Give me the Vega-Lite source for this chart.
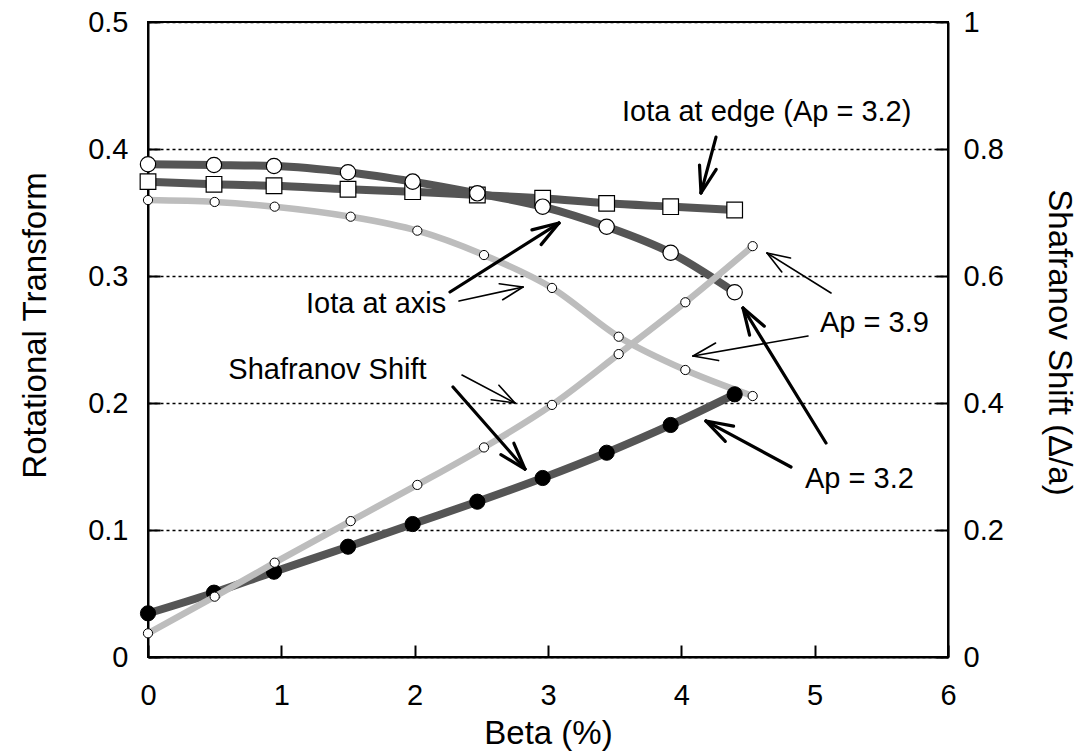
{
  "$schema": "https://vega.github.io/schema/vega-lite/v6.json",
  "width": 800,
  "height": 635,
  "autosize": {"type": "none"},
  "padding": {"left": 148, "top": 22, "right": 134, "bottom": 97},
  "background": "#ffffff",
  "config": {
    "font": "Liberation Sans",
    "view": {"stroke": "#000000", "strokeWidth": 2},
    "axis": {
      "domainColor": "#000000",
      "domainWidth": 2,
      "tickColor": "#000000",
      "tickWidth": 2,
      "tickSize": -12,
      "labelColor": "#000000",
      "labelFont": "Liberation Sans",
      "labelFontSize": 29,
      "labelFlush": false,
      "labelOverlap": false,
      "titleFont": "Liberation Sans",
      "titleFontSize": 33,
      "titleFontWeight": "normal",
      "titleColor": "#000000",
      "grid": false
    },
    "axisLeft": {
      "labelPadding": 32,
      "titleX": -113,
      "titleY": 303,
      "titleAngle": -90,
      "titleAlign": "center",
      "titleBaseline": "middle"
    },
    "axisRight": {
      "labelPadding": 27,
      "titleX": 110,
      "titleY": 320,
      "titleAngle": 90,
      "titleAlign": "center",
      "titleBaseline": "middle"
    },
    "axisBottom": {
      "labelPadding": 36,
      "labelBaseline": "top",
      "titleX": 400,
      "titleY": 86,
      "titleAlign": "center",
      "titleBaseline": "alphabetic"
    }
  },
  "datasets": {
    "iota": [
      {"series": "axis32", "beta": 0.0, "iota": 0.388},
      {"series": "axis32", "beta": 0.495, "iota": 0.3874},
      {"series": "axis32", "beta": 0.945, "iota": 0.3866},
      {"series": "axis32", "beta": 1.5, "iota": 0.3817},
      {"series": "axis32", "beta": 1.985, "iota": 0.3743},
      {"series": "axis32", "beta": 2.47, "iota": 0.3651},
      {"series": "axis32", "beta": 2.96, "iota": 0.3546},
      {"series": "axis32", "beta": 3.44, "iota": 0.3388},
      {"series": "axis32", "beta": 3.92, "iota": 0.3183},
      {"series": "axis32", "beta": 4.4, "iota": 0.2872},
      {"series": "edge32", "beta": 0.0, "iota": 0.3743},
      {"series": "edge32", "beta": 0.495, "iota": 0.3722},
      {"series": "edge32", "beta": 0.945, "iota": 0.3711},
      {"series": "edge32", "beta": 1.5, "iota": 0.3683},
      {"series": "edge32", "beta": 1.985, "iota": 0.3664},
      {"series": "edge32", "beta": 2.47, "iota": 0.3638},
      {"series": "edge32", "beta": 2.96, "iota": 0.3612},
      {"series": "edge32", "beta": 3.44, "iota": 0.3572},
      {"series": "edge32", "beta": 3.92, "iota": 0.3546},
      {"series": "edge32", "beta": 4.4, "iota": 0.352},
      {"series": "axis39", "beta": 0.0, "iota": 0.3598},
      {"series": "axis39", "beta": 0.5, "iota": 0.3583},
      {"series": "axis39", "beta": 0.95, "iota": 0.3546},
      {"series": "axis39", "beta": 1.52, "iota": 0.3467},
      {"series": "axis39", "beta": 2.02, "iota": 0.3357},
      {"series": "axis39", "beta": 2.52, "iota": 0.3165},
      {"series": "axis39", "beta": 3.03, "iota": 0.2906},
      {"series": "axis39", "beta": 3.53, "iota": 0.2522},
      {"series": "axis39", "beta": 4.03, "iota": 0.226},
      {"series": "axis39", "beta": 4.535, "iota": 0.2055}
    ],
    "shift": [
      {"series": "shift32", "beta": 0.0, "shift": 0.0688},
      {"series": "shift32", "beta": 0.495, "shift": 0.1013},
      {"series": "shift32", "beta": 0.945, "shift": 0.1343},
      {"series": "shift32", "beta": 1.5, "shift": 0.1737},
      {"series": "shift32", "beta": 1.985, "shift": 0.2094},
      {"series": "shift32", "beta": 2.47, "shift": 0.2446},
      {"series": "shift32", "beta": 2.96, "shift": 0.2819},
      {"series": "shift32", "beta": 3.44, "shift": 0.3217},
      {"series": "shift32", "beta": 3.92, "shift": 0.3654},
      {"series": "shift32", "beta": 4.4, "shift": 0.4137},
      {"series": "shift39", "beta": 0.0, "shift": 0.0373},
      {"series": "shift39", "beta": 0.5, "shift": 0.095},
      {"series": "shift39", "beta": 0.95, "shift": 0.1485},
      {"series": "shift39", "beta": 1.52, "shift": 0.214},
      {"series": "shift39", "beta": 2.02, "shift": 0.271},
      {"series": "shift39", "beta": 2.52, "shift": 0.33},
      {"series": "shift39", "beta": 3.03, "shift": 0.397},
      {"series": "shift39", "beta": 3.53, "shift": 0.477},
      {"series": "shift39", "beta": 4.03, "shift": 0.5586},
      {"series": "shift39", "beta": 4.535, "shift": 0.647}
    ],
    "arrows": [
      {"weight": "thick", "beta": 4.26, "iota": 0.4094, "beta2": 4.1475, "iota2": 0.3654},
      {"weight": "thick", "beta": 4.2615, "iota": 0.3839, "beta2": 4.1475, "iota2": 0.3654},
      {"weight": "thick", "beta": 4.1363, "iota": 0.3874, "beta2": 4.1475, "iota2": 0.3654},

      {"weight": "thick", "beta": 2.265, "iota": 0.2874, "beta2": 3.0825, "iota2": 0.3417},
      {"weight": "thick", "beta": 2.8793, "iota": 0.3363, "beta2": 3.0825, "iota2": 0.3417},
      {"weight": "thick", "beta": 2.9483, "iota": 0.3247, "beta2": 3.0825, "iota2": 0.3417},

      {"weight": "thin", "beta": 2.3325, "iota": 0.2803, "beta2": 2.8125, "iota2": 0.2913},
      {"weight": "thin", "beta": 2.634, "iota": 0.2939, "beta2": 2.8125, "iota2": 0.2913},
      {"weight": "thin", "beta": 2.6603, "iota": 0.2813, "beta2": 2.8125, "iota2": 0.2913},

      {"weight": "thin", "beta": 2.355, "iota": 0.222, "beta2": 2.7525, "iota2": 0.2},
      {"weight": "thin", "beta": 2.6318, "iota": 0.214, "beta2": 2.7525, "iota2": 0.2},
      {"weight": "thin", "beta": 2.574, "iota": 0.2026, "beta2": 2.7525, "iota2": 0.2},

      {"weight": "thick", "beta": 2.2875, "iota": 0.2126, "beta2": 2.8275, "iota2": 0.148},
      {"weight": "thick", "beta": 2.7443, "iota": 0.1683, "beta2": 2.8275, "iota2": 0.148},
      {"weight": "thick", "beta": 2.6468, "iota": 0.1593, "beta2": 2.8275, "iota2": 0.148},

      {"weight": "thin", "beta": 5.1225, "iota": 0.2866, "beta2": 4.6425, "iota2": 0.3181},
      {"weight": "thin", "beta": 4.7535, "iota": 0.3032, "beta2": 4.6425, "iota2": 0.3181},
      {"weight": "thin", "beta": 4.8188, "iota": 0.3142, "beta2": 4.6425, "iota2": 0.3181},

      {"weight": "thin", "beta": 4.95, "iota": 0.2528, "beta2": 4.0875, "iota2": 0.237},
      {"weight": "thin", "beta": 4.2795, "iota": 0.2334, "beta2": 4.0875, "iota2": 0.237},
      {"weight": "thin", "beta": 4.257, "iota": 0.2472, "beta2": 4.0875, "iota2": 0.237},

      {"weight": "thick", "beta": 5.085, "iota": 0.1685, "beta2": 4.4625, "iota2": 0.2748},
      {"weight": "thick", "beta": 4.512, "iota": 0.2534, "beta2": 4.4625, "iota2": 0.2748},
      {"weight": "thick", "beta": 4.6223, "iota": 0.2605, "beta2": 4.4625, "iota2": 0.2748},

      {"weight": "thick", "beta": 4.8225, "iota": 0.1496, "beta2": 4.185, "iota2": 0.1858},
      {"weight": "thick", "beta": 4.3298, "iota": 0.1698, "beta2": 4.185, "iota2": 0.1858},
      {"weight": "thick", "beta": 4.392, "iota": 0.1818, "beta2": 4.185, "iota2": 0.1858}
    ],
    "labels": [
      {"label": "Iota at edge (Ap = 3.2)", "beta": 3.555, "iota": 0.4223},
      {"label": "Iota at axis", "beta": 1.185, "iota": 0.2706},
      {"label": "Shafranov Shift", "beta": 0.6023, "iota": 0.2187},
      {"label": "Ap = 3.9", "beta": 5.04, "iota": 0.2561},
      {"label": "Ap = 3.2", "beta": 4.9275, "iota": 0.1328}
    ]
  },
  "encoding": {
    "x": {
      "field": "beta",
      "type": "quantitative",
      "title": "Beta (%)",
      "scale": {"domain": [0, 6], "nice": false},
      "axis": {"values": [0, 1, 2, 3, 4, 5, 6], "format": "d"}
    }
  },
  "layer": [
    {
      "data": {"name": "iota"},
      "encoding": {
        "y": {
          "field": "iota",
          "type": "quantitative",
          "title": "Rotational Transform",
          "scale": {"domain": [0, 0.5], "nice": false},
          "axis": {
            "orient": "left",
            "values": [0, 0.1, 0.2, 0.3, 0.4, 0.5],
            "labelExpr": "datum.value == 0 ? '0' : format(datum.value, '.1f')",
            "grid": true,
            "gridColor": "#000000",
            "gridDash": [3, 3],
            "gridWidth": 1.3
          }
        }
      },
      "layer": [
        {
          "transform": [{"filter": "datum.series === 'axis39'"}],
          "mark": {"type": "line", "color": "#bdbdbd", "strokeWidth": 6.5, "interpolate": "monotone"}
        },
        {
          "transform": [{"filter": "datum.series !== 'axis39'"}],
          "mark": {"type": "line", "color": "#555555", "strokeWidth": 8, "interpolate": "monotone"},
          "encoding": {"detail": {"field": "series"}}
        },
        {
          "transform": [{"filter": "datum.series === 'axis39'"}],
          "mark": {"type": "point", "shape": "circle", "size": 85, "filled": true, "fill": "#ffffff", "stroke": "#000000", "strokeWidth": 1, "opacity": 1}
        },
        {
          "transform": [{"filter": "datum.series === 'edge32'"}],
          "mark": {"type": "point", "shape": "square", "size": 245, "filled": true, "fill": "#ffffff", "stroke": "#000000", "strokeWidth": 1.2, "opacity": 1}
        },
        {
          "transform": [{"filter": "datum.series === 'axis32'"}],
          "mark": {"type": "point", "shape": "circle", "size": 235, "filled": true, "fill": "#ffffff", "stroke": "#000000", "strokeWidth": 1.2, "opacity": 1}
        }
      ]
    },
    {
      "data": {"name": "shift"},
      "encoding": {
        "y": {
          "field": "shift",
          "type": "quantitative",
          "title": "Shafranov Shift (Δ/a)",
          "scale": {"domain": [0, 1], "nice": false},
          "axis": {
            "orient": "right",
            "values": [0, 0.2, 0.4, 0.6, 0.8, 1],
            "labelExpr": "datum.value == 0 ? '0' : datum.value == 1 ? '1' : format(datum.value, '.1f')"
          }
        }
      },
      "layer": [
        {
          "transform": [{"filter": "datum.series === 'shift32'"}],
          "mark": {"type": "line", "color": "#555555", "strokeWidth": 8, "interpolate": "monotone"}
        },
        {
          "transform": [{"filter": "datum.series === 'shift32'"}],
          "mark": {"type": "point", "shape": "circle", "size": 230, "filled": true, "fill": "#000000", "stroke": "#000000", "strokeWidth": 1, "opacity": 1}
        },
        {
          "transform": [{"filter": "datum.series === 'shift39'"}],
          "mark": {"type": "line", "color": "#bdbdbd", "strokeWidth": 6.5, "interpolate": "monotone"}
        },
        {
          "transform": [{"filter": "datum.series === 'shift39'"}],
          "mark": {"type": "point", "shape": "circle", "size": 85, "filled": true, "fill": "#ffffff", "stroke": "#000000", "strokeWidth": 1, "opacity": 1}
        }
      ]
    },
    {
      "layer": [
        {
          "data": {"name": "arrows"},
          "mark": {"type": "rule", "color": "#000000", "strokeCap": "round"},
          "encoding": {
            "x2": {"field": "beta2"},
            "y": {"field": "iota", "type": "quantitative", "scale": {"domain": [0, 0.5], "nice": false}, "axis": null},
            "y2": {"field": "iota2"},
            "strokeWidth": {
              "field": "weight",
              "type": "nominal",
              "scale": {"domain": ["thick", "thin"], "range": [3.2, 1.6]},
              "legend": null
            }
          }
        },
        {
          "data": {"name": "labels"},
          "mark": {"type": "text", "align": "left", "baseline": "alphabetic", "font": "Liberation Sans", "fontSize": 29, "color": "#000000"},
          "encoding": {
            "y": {"field": "iota", "type": "quantitative", "scale": {"domain": [0, 0.5], "nice": false}, "axis": null},
            "text": {"field": "label"}
          }
        }
      ]
    }
  ],
  "resolve": {"scale": {"y": "independent"}}
}
